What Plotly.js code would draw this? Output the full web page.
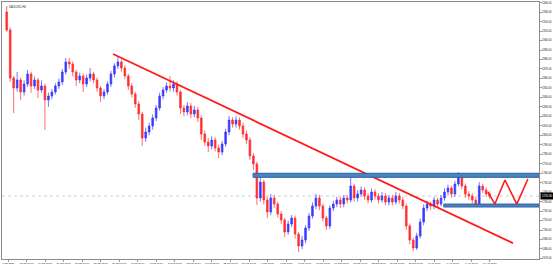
<!DOCTYPE html>
<html><head><meta charset="utf-8">
<script src="https://cdn.plot.ly/plotly-3.0.1.min.js"></script>
<style>html,body{margin:0;padding:0;background:#fff}#chart{width:553px;height:267px}</style>
</head><body><div id="chart"></div>
<script>
// XAUUSD, half-day candles (Jan 7 – Apr 14, 2021)
const firstOpen = 1930.2;
const closes = [1911.2,1860.5,1849.9,1858.4,1845.7,1854.1,1864.7,1852.0,1858.4,1847.8,
1852.0,1837.3,1841.5,1845.7,1852.0,1856.3,1866.8,1877.4,1875.3,1866.8,
1858.4,1862.6,1854.1,1860.5,1864.7,1858.4,1849.9,1841.5,1845.7,1854.1,
1864.7,1873.2,1877.4,1871.0,1862.6,1852.0,1843.6,1833.0,1822.5,1797.1,
1803.5,1809.8,1818.2,1828.8,1841.5,1847.8,1852.0,1849.9,1854.1,1845.7,
1828.8,1824.6,1830.9,1822.5,1826.7,1818.2,1801.3,1792.9,1788.7,1795.0,
1786.6,1782.3,1790.8,1803.5,1816.1,1811.9,1816.1,1809.8,1801.3,1795.0,
1778.1,1769.7,1733.8,1750.6,1731.7,1719.0,1733.8,1727.4,1716.9,1710.5,
1697.9,1706.3,1712.6,1695.7,1683.1,1689.4,1702.1,1714.8,1725.3,1733.8,
1725.3,1712.6,1704.2,1723.2,1727.4,1731.7,1727.4,1733.8,1731.7,1746.4,
1733.8,1738.0,1742.2,1735.9,1731.7,1740.1,1735.9,1731.7,1735.9,1729.5,
1733.8,1729.5,1735.9,1731.7,1725.3,1704.2,1689.4,1681.0,1693.6,1708.4,
1723.2,1727.4,1725.3,1731.7,1727.4,1733.8,1740.1,1744.3,1738.0,1748.5,
1757.0,1746.4,1738.0,1735.9,1731.7,1727.4,1746.4,1742.2,1738.0,1735.9];
const highs = [1934.4,1914.0,1862.6,1866.8,1861.0,1858.0,1869.0,1867.0,1862.0,1860.5,
1858.0,1854.5,1845.0,1849.0,1855.0,1860.0,1870.0,1881.6,1881.6,1878.0,
1869.0,1866.0,1865.0,1864.0,1871.0,1867.0,1861.0,1852.0,1849.0,1857.0,
1868.0,1876.0,1883.7,1880.0,1874.0,1865.0,1855.0,1846.0,1836.0,1825.0,
1808.0,1813.0,1822.0,1832.0,1845.0,1851.0,1856.0,1862.6,1858.0,1857.0,
1848.0,1832.0,1835.0,1834.0,1831.0,1830.0,1821.0,1805.0,1797.0,1799.0,
1798.0,1790.0,1794.0,1807.0,1820.4,1819.0,1820.0,1819.0,1813.0,1805.0,
1798.0,1781.0,1772.0,1757.0,1753.0,1735.0,1738.0,1737.0,1730.0,1720.0,
1713.0,1710.0,1715.8,1715.0,1698.0,1694.0,1705.0,1718.0,1729.0,1738.0,
1737.0,1728.0,1715.0,1726.0,1731.0,1735.0,1735.0,1737.0,1737.0,1755.9,
1749.0,1742.0,1746.0,1745.0,1739.0,1744.0,1743.0,1739.0,1740.0,1739.0,
1737.0,1737.0,1740.0,1739.0,1735.0,1728.0,1707.0,1692.0,1697.0,1712.0,
1727.0,1731.0,1730.0,1735.0,1734.0,1737.0,1744.0,1748.0,1747.0,1752.0,
1761.2,1759.0,1749.0,1741.0,1739.0,1735.0,1750.6,1749.0,1745.0,1741.0];
const lows = [1909.1,1856.3,1823.5,1846.0,1837.3,1842.0,1851.0,1845.0,1849.0,1839.4,
1845.0,1805.6,1830.0,1838.0,1843.0,1849.0,1853.0,1864.0,1870.0,1862.0,
1852.0,1855.0,1845.7,1851.0,1857.0,1855.0,1846.0,1835.1,1838.0,1843.0,
1851.0,1861.0,1870.0,1867.0,1859.0,1848.0,1840.0,1829.0,1816.1,1788.7,
1793.0,1800.0,1806.0,1815.0,1826.0,1838.0,1845.0,1846.0,1846.0,1842.0,
1822.5,1820.0,1821.0,1818.0,1819.0,1814.0,1795.0,1789.0,1782.3,1785.0,
1783.0,1776.0,1779.0,1788.0,1800.0,1808.0,1808.0,1806.0,1797.0,1791.0,
1774.0,1763.3,1726.4,1730.0,1727.0,1712.6,1716.0,1723.0,1713.0,1706.0,
1692.6,1695.0,1703.0,1691.0,1676.7,1680.0,1686.0,1699.0,1712.0,1722.0,
1721.0,1709.0,1700.0,1701.0,1720.0,1724.0,1723.0,1724.0,1728.0,1729.0,
1730.0,1730.0,1735.0,1732.0,1728.0,1729.0,1732.0,1728.0,1729.0,1726.0,
1726.0,1726.0,1727.0,1728.0,1722.0,1700.0,1685.0,1677.8,1679.0,1691.0,
1705.0,1720.0,1721.0,1722.0,1724.0,1725.0,1731.0,1737.0,1734.0,1735.0,
1746.0,1743.0,1734.0,1732.0,1728.0,1725.3,1725.0,1739.0,1735.0,1733.0];
const xLabels = ["7 Jan 2021","11 Jan 16:00","14 Jan 08:00","19 Jan 00:00","21 Jan 16:00","26 Jan 08:00",
"29 Jan 00:00","2 Feb 16:00","5 Feb 08:00","10 Feb 00:00","12 Feb 16:00","17 Feb 08:00","22 Feb 00:00",
"24 Feb 16:00","1 Mar 08:00","4 Mar 00:00","8 Mar 16:00","11 Mar 08:00","16 Mar 00:00","18 Mar 16:00",
"23 Mar 08:00","26 Mar 00:00","30 Mar 16:00","2 Apr 08:00","7 Apr 00:00","9 Apr 16:00","14 Apr 08:00"];
const yTicks = [1670,1680,1690,1700,1710,1720,1730,1740,1750,1760,1770,1780,1790,1800,1810,1820,1830,1840,1850,1860,1870,1880,1890,1900,1910,1920,1930,1940];
// drawn objects (analysis)
const trendX = [30.6, 145.7];
const trendY = [1885.8, 1686.2];
const resistance = [1755.6, 1759.9];
const resistanceStart = 70.9;
const support = [1724.3, 1727.4];
const supportStart = 125.8;
const zigX = [138.5, 140.5, 143.4, 146.8, 150.0];
const zigY = [1740.0, 1727.4, 1752.8, 1727.4, 1753.9];

const xIdx = closes.map((_, i) => i);
const opens = closes.map((c, i) => i === 0 ? firstOpen : closes[i - 1]);
const xRange = [-1.36, 153.2];
const yRange = [1669.4, 1940.7];
const last = closes[closes.length - 1];

const traces = [
  {type:'candlestick', x:xIdx, open:opens, high:highs, low:lows, close:closes,
   increasing:{line:{color:'#3a3aff', width:0.7}, fillcolor:'#3a3aff'},
   decreasing:{line:{color:'#ff3030', width:0.7}, fillcolor:'#ff3030'},
   whiskerwidth:0, hoverinfo:'skip', showlegend:false},
  {type:'scatter', mode:'lines', x:trendX, y:trendY, line:{color:'#ff1a1a', width:1.8}, hoverinfo:'skip', showlegend:false},
  {type:'scatter', mode:'lines', x:zigX, y:zigY, line:{color:'#ff1a1a', width:1.6}, hoverinfo:'skip', showlegend:false}
];

const layout = {
  width:553, height:267,
  margin:{l:2, r:14, t:2, b:8, pad:0},
  paper_bgcolor:'#fff', plot_bgcolor:'#fff',
  font:{family:'Liberation Sans, Arial, sans-serif', color:'#222'},
  xaxis:{range:xRange, rangeslider:{visible:false}, showgrid:false, zeroline:false,
    tickmode:'array', tickvals:xLabels.map((_, j) => j*16/3 + 0.4), ticktext:xLabels,
    tickfont:{size:2.4, color:'#111'}, ticks:'outside', ticklen:1.5, tickcolor:'#999', tickangle:0,
    showline:true, linecolor:'#8a8a8a', linewidth:1, mirror:true, fixedrange:true},
  yaxis:{range:yRange, side:'right', showgrid:false, zeroline:false,
    tickmode:'array', tickvals:yTicks, ticktext:yTicks.map(v => v.toFixed(2)),
    tickfont:{size:2.6, color:'#111'}, ticks:'outside', ticklen:1.5, tickcolor:'#999',
    showline:true, linecolor:'#8a8a8a', linewidth:1, mirror:true, fixedrange:true},
  shapes:[
    {type:'line', xref:'paper', x0:0, x1:1, yref:'y', y0:last, y1:last, line:{color:'#d0d0d0', width:1, dash:'dot'}, layer:'below'},
    {type:'rect', xref:'x', x0:resistanceStart, x1:xRange[1], yref:'y', y0:resistance[0], y1:resistance[1],
     fillcolor:'#4a84bf', line:{color:'#2d62a0', width:1}},
    {type:'rect', xref:'x', x0:supportStart, x1:xRange[1], yref:'y', y0:support[0], y1:support[1],
     fillcolor:'#4a84bf', line:{color:'#2d62a0', width:1}}
  ],
  annotations:[
    {xref:'paper', yref:'paper', x:0.004, y:0.995, xanchor:'left', yanchor:'top', showarrow:false,
     text:'▾ XAUUSD,H4', font:{size:3, color:'#333'}},
    {xref:'paper', yref:'y', x:1.002, y:last, xanchor:'left', yanchor:'middle', showarrow:false,
     text:last.toFixed(2), bgcolor:'#000', font:{size:2.8, color:'#fff'}, borderpad:1}
  ]
};
Plotly.newPlot('chart', traces, layout, {staticPlot:true, displayModeBar:false});
</script></body></html>
